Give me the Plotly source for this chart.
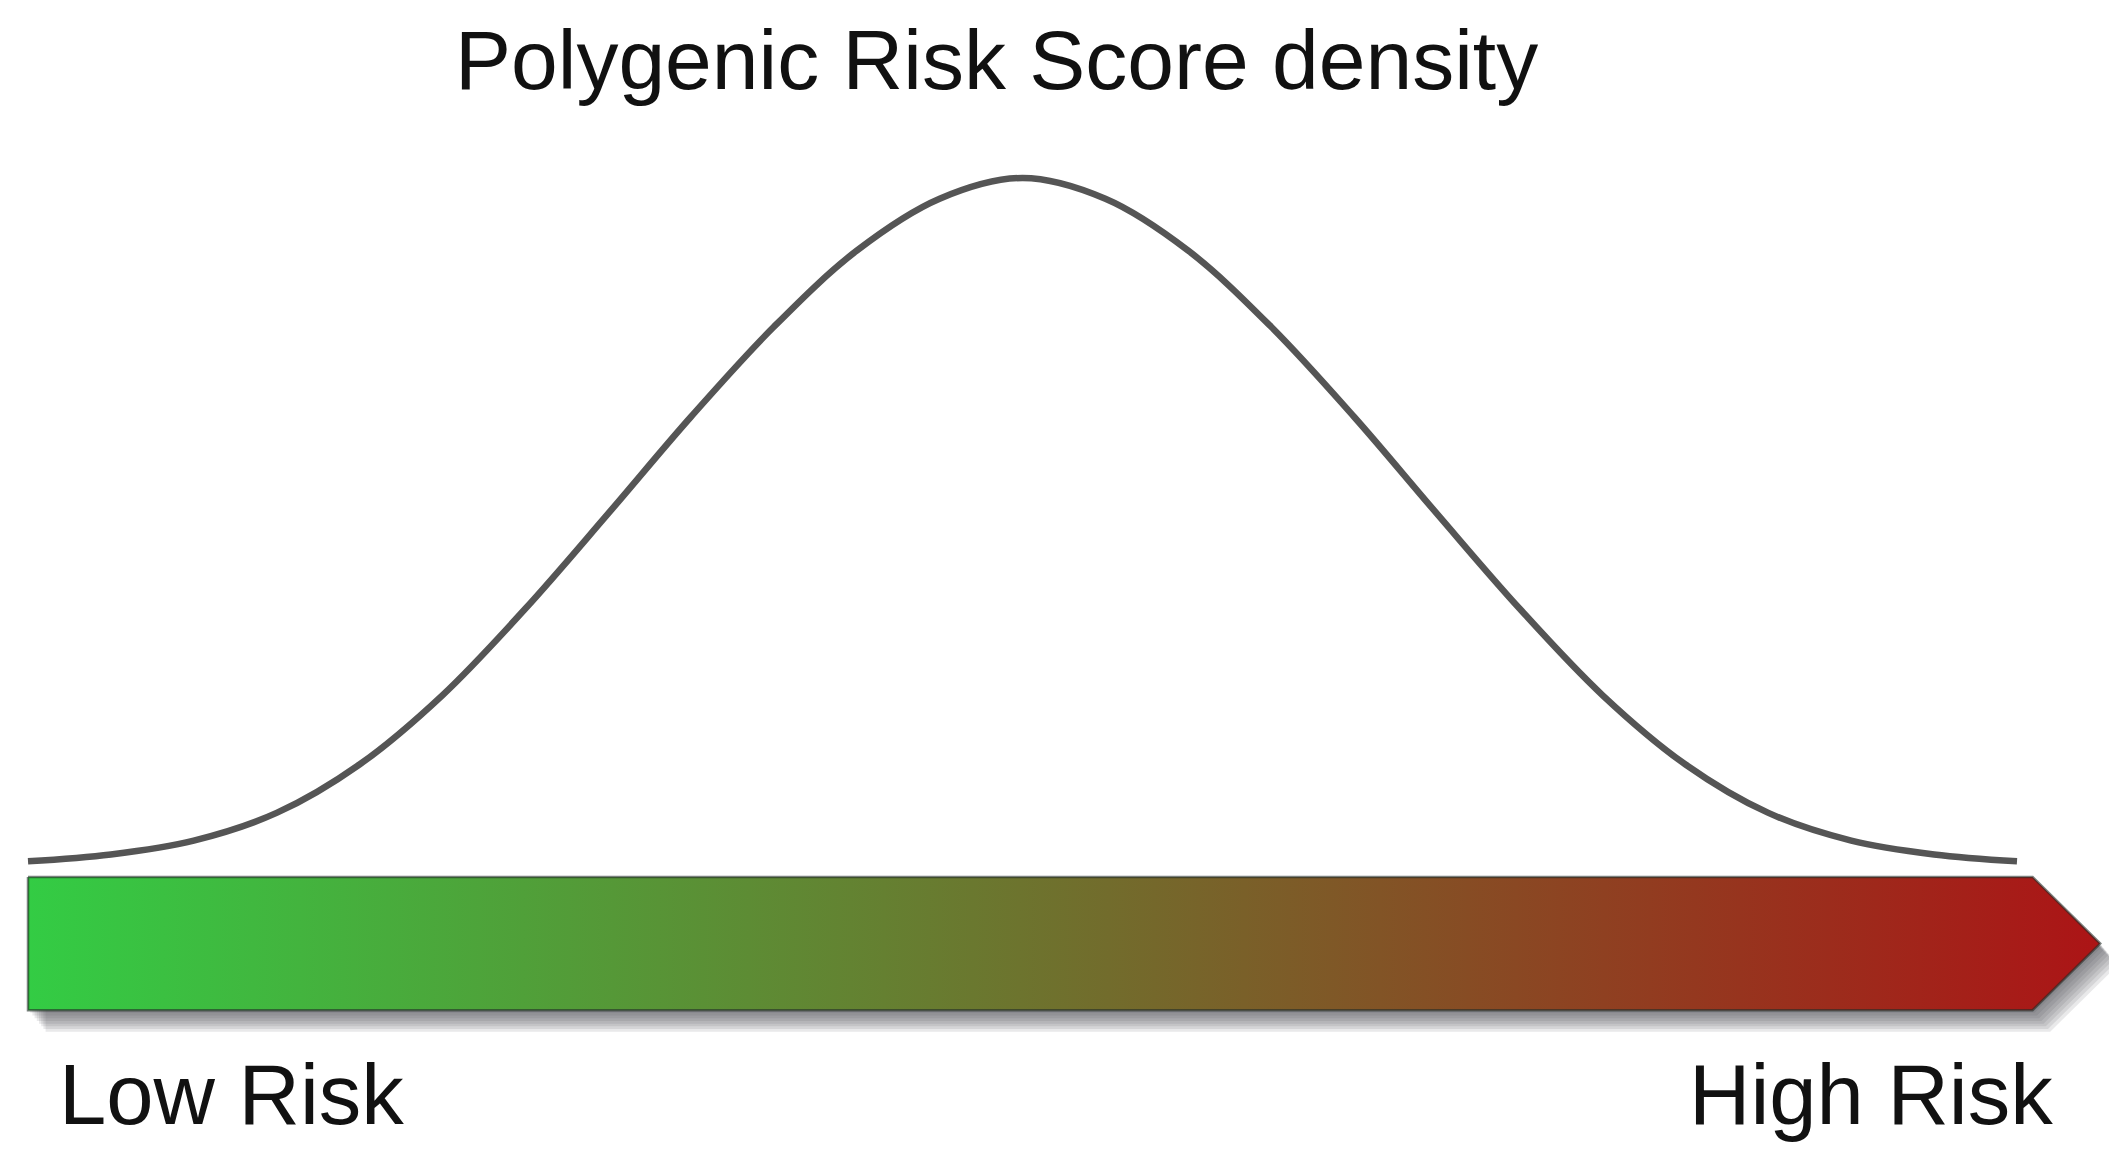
import plotly.graph_objects as go

# Polygenic Risk Score (standardised) and relative density
PRS_SCORE = [-3.00, -2.75, -2.50, -2.25, -2.00, -1.75, -1.50, -1.25, -1.00, -0.75,
             -0.50, -0.25, 0.00, 0.25, 0.50, 0.75, 1.00, 1.25, 1.50, 1.75,
             2.00, 2.25, 2.50, 2.75, 3.00]
DENSITY = [0.005, 0.009, 0.017, 0.033, 0.061, 0.101, 0.151, 0.206, 0.262, 0.314,
           0.358, 0.388, 0.400, 0.388, 0.358, 0.314, 0.262, 0.206, 0.151, 0.101,
           0.061, 0.033, 0.017, 0.009, 0.005]

TITLE = "Polygenic Risk Score density"
RISK_LABELS = ["Low Risk", "High Risk"]
RISK_COLORS = ["rgb(51,204,68)", "rgb(172,20,22)"]

W, H = 2117, 1164
OFF = 8  # page body margin in the browser
PX_X, PX_Y = 331.5, 1730.0  # pixels per axis unit
X0_PX, Y0_PX = 1022.5 - OFF, 870 - OFF  # where score 0 / density 0 land
X_RANGE = [-X0_PX / PX_X, (W - X0_PX) / PX_X]
Y_RANGE = [(Y0_PX - H) / PX_Y, Y0_PX / PX_Y]

# arrow bar under the curve (axis units)
BAR_X0, BAR_X1, TIP_X = -3.0, 3.047, 3.251
BAR_TOP, BAR_BOT = -0.004, -0.081
BAR_MID = (BAR_TOP + BAR_BOT) / 2


def px(x, y):
    """screen pixel -> paper coords"""
    return (x - OFF) / W, 1 - (y - OFF) / H


fig = go.Figure()

# soft shadow under the arrow
ax = [BAR_X0, BAR_X1, TIP_X, BAR_X1, BAR_X0, BAR_X0]
ay = [BAR_TOP, BAR_TOP, BAR_MID, BAR_BOT, BAR_BOT, BAR_TOP]
for k in range(1, 9):
    dx = 2.2 * k / PX_X
    dy = 2.7 * k / PX_Y
    fig.add_trace(go.Scatter(
        x=[v + dx for v in ax], y=[v - dy for v in ay],
        mode="lines", fill="toself", fillcolor="rgba(70,70,85,0.12)",
        line=dict(width=0), hoverinfo="skip", showlegend=False))

# gradient arrow green -> red
fig.add_trace(go.Scatter(
    x=ax, y=ay, mode="lines", fill="toself",
    fillgradient=dict(type="horizontal",
                      colorscale=[[0, RISK_COLORS[0]], [1, RISK_COLORS[1]]]),
    line=dict(color="rgba(35,45,40,0.6)", width=2.5),
    hoverinfo="skip", showlegend=False))

# density curve
fig.add_trace(go.Scatter(
    x=PRS_SCORE, y=DENSITY, mode="lines",
    line=dict(color="#555555", width=6.5, shape="spline", smoothing=1.0),
    hoverinfo="skip", showlegend=False))

font = dict(family="Liberation Sans, Arial, sans-serif", size=85, color="#111111")
tx, ty = px(996, 60)
fig.add_annotation(text=TITLE, x=tx, y=ty, xref="paper", yref="paper",
                   xanchor="center", yanchor="middle", showarrow=False,
                   font=dict(font, size=84))
lx, ly = px(57, 1094)
fig.add_annotation(text=RISK_LABELS[0], x=lx, y=ly, xref="paper", yref="paper",
                   xanchor="left", yanchor="middle", showarrow=False, font=font)
rx, ry = px(2055, 1094)
fig.add_annotation(text=RISK_LABELS[1], x=rx, y=ry, xref="paper", yref="paper",
                   xanchor="right", yanchor="middle", showarrow=False, font=font)

fig.update_layout(
    width=W, height=H,
    margin=dict(l=0, r=0, t=0, b=0),
    paper_bgcolor="white", plot_bgcolor="white",
    xaxis=dict(range=X_RANGE, visible=False, fixedrange=True),
    yaxis=dict(range=Y_RANGE, visible=False, fixedrange=True),
    showlegend=False,
)

fig.write_html("out.html")
